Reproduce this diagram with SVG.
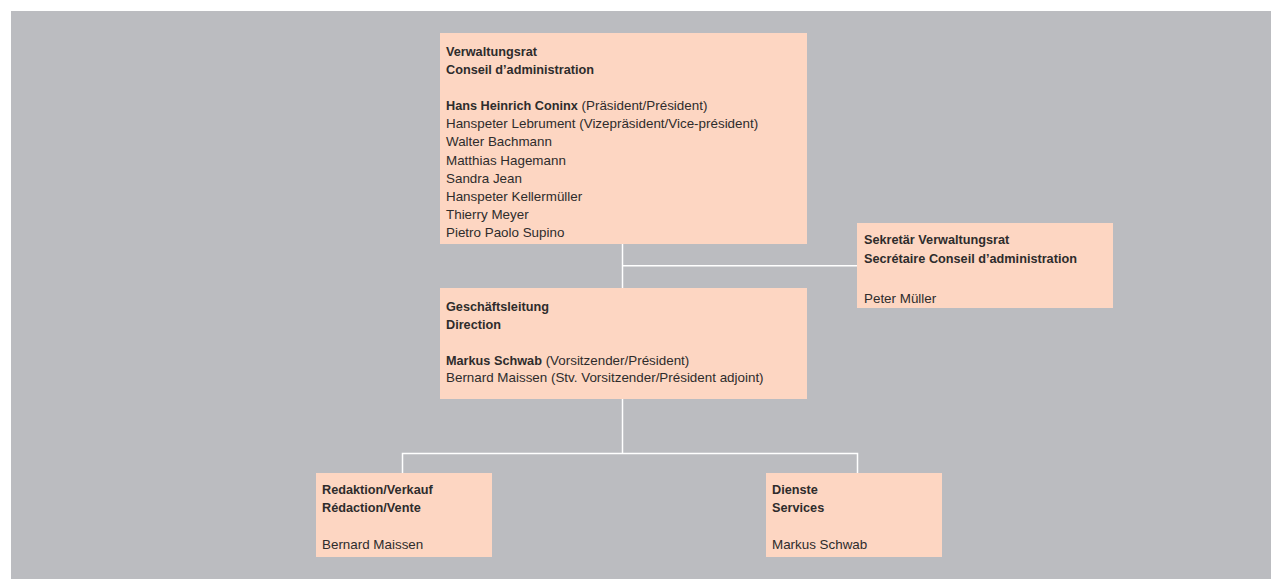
<svg xmlns="http://www.w3.org/2000/svg" width="1271" height="579" viewBox="0 0 1271 579">
<style>
.bg{fill:#bbbcc0}
.box{fill:#fdd6c2}
text{font-family:"Liberation Sans",Arial,sans-serif;font-size:13.4px;fill:#2e2c2c}
.b{font-weight:bold;font-size:12.7px}
.conn{stroke:#ffffff;stroke-width:1.5;fill:none}
</style>
<rect class="bg" x="11" y="11" width="1260" height="568"/>
<g id="connectors">
<path class="conn" d="M622.5 244 V288"/>
<path class="conn" d="M622.5 265.8 H857"/>
<path class="conn" d="M622.5 399 V453.5"/>
<path class="conn" d="M402.5 473 V453.5 H857.5 V473"/>
</g>
<g id="verwaltungsrat">
<rect class="box" x="440" y="33" width="367" height="211"/>
<text x="446" y="56" class="b">Verwaltungsrat</text>
<text x="446" y="73.5" class="b">Conseil d’administration</text>
<text x="446" y="110"><tspan class="b">Hans Heinrich Coninx</tspan> (Präsident/Président)</text>
<text x="446" y="128.2">Hanspeter Lebrument (Vizepräsident/Vice-président)</text>
<text x="446" y="146.4">Walter Bachmann</text>
<text x="446" y="164.6">Matthias Hagemann</text>
<text x="446" y="182.8">Sandra Jean</text>
<text x="446" y="201">Hanspeter Kellermüller</text>
<text x="446" y="219.2">Thierry Meyer</text>
<text x="446" y="237.4">Pietro Paolo Supino</text>
</g>
<g id="sekretaer">
<rect class="box" x="857" y="223" width="256" height="85"/>
<text x="864" y="243.5" class="b">Sekretär Verwaltungsrat</text>
<text x="864" y="262.5" class="b">Secrétaire Conseil d’administration</text>
<text x="864" y="302.5">Peter Müller</text>
</g>
<g id="geschaeftsleitung">
<rect class="box" x="440" y="288" width="367" height="111"/>
<text x="446" y="311" class="b">Geschäftsleitung</text>
<text x="446" y="328.5" class="b">Direction</text>
<text x="446" y="364.5"><tspan class="b">Markus Schwab</tspan> (Vorsitzender/Président)</text>
<text x="446" y="382">Bernard Maissen (Stv. Vorsitzender/Président adjoint)</text>
</g>
<g id="redaktion">
<rect class="box" x="316" y="473" width="176" height="84"/>
<text x="322" y="494" class="b">Redaktion/Verkauf</text>
<text x="322" y="512" class="b">Rédaction/Vente</text>
<text x="322" y="549">Bernard Maissen</text>
</g>
<g id="dienste">
<rect class="box" x="766" y="473" width="176" height="84"/>
<text x="772" y="494" class="b">Dienste</text>
<text x="772" y="512" class="b">Services</text>
<text x="772" y="549">Markus Schwab</text>
</g>
</svg>
